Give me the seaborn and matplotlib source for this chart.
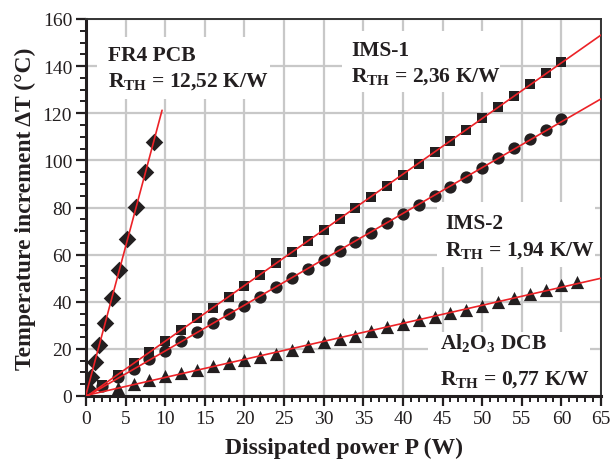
import numpy as np
import pandas as pd
import matplotlib
matplotlib.use("Agg")
import matplotlib.pyplot as plt
import seaborn as sns
from matplotlib.patches import Rectangle
from matplotlib.ticker import MultipleLocator

# measured points (power W, temperature rise degC)
fr4_p = [0.2, 0.6, 1.1, 1.7, 2.4, 3.3, 4.2, 5.2, 6.3, 7.5, 8.6]
fr4_t = [3.0, 8.0, 14.3, 21.8, 31.0, 41.5, 53.6, 66.5, 80.2, 95.0, 108.0]

ims1_p = list(range(2, 61, 2))
ims1_t = [4.7, 8.9, 14.0, 18.8, 23.5, 28.2, 33.0, 37.4, 42.0, 46.8,
          51.5, 56.3, 61.0, 65.6, 70.3, 75.0, 79.8, 84.5, 89.2, 93.8,
          98.5, 103.4, 108.1, 113.0, 117.9, 122.5, 127.2, 132.3, 137.1, 141.9]

ims2_p = list(range(2, 61, 2))
ims2_t = [4.1, 7.9, 11.5, 15.7, 19.2, 23.2, 27.0, 31.0, 34.8, 38.1,
          42.2, 46.4, 50.1, 53.9, 57.7, 61.4, 65.2, 69.2, 73.3, 77.2,
          81.1, 84.8, 88.8, 92.8, 96.8, 100.9, 105.1, 109.1, 113.0, 117.6]

dcb_p = list(range(4, 63, 2))
dcb_t = [3.6, 5.3, 6.9, 8.4, 9.8, 11.2, 12.9, 14.0, 15.2, 16.6,
         17.9, 19.6, 21.4, 23.0, 24.2, 25.6, 27.7, 29.1, 30.6, 32.4,
         33.7, 35.1, 36.6, 38.3, 40.0, 41.5, 43.3, 45.1, 47.1, 48.5]

series = ["FR4", "IMS-1", "IMS-2", "Al2O3"]
powers = [fr4_p, ims1_p, ims2_p, dcb_p]
temps = [fr4_t, ims1_t, ims2_t, dcb_t]
fit_end = [9.6, 65, 65, 65]   # how far the red fit line runs

x_ticks = list(range(0, 66, 5))
y_ticks = list(range(0, 161, 20))

ink = "#231f20"

sns.set_style("ticks")
plt.rcParams["font.family"] = ["Liberation Serif", "DejaVu Serif"]
plt.rcParams["mathtext.fontset"] = "custom"
plt.rcParams["mathtext.rm"] = "Liberation Serif:bold"
plt.rcParams["mathtext.bf"] = "Liberation Serif:bold"

fig = plt.figure(figsize=(6.11, 4.60), dpi=100)
ax = fig.add_axes([86 / 611, 63 / 460, 515 / 611, 377 / 460])

marker_style = {
    "FR4": dict(marker="D", s=80),
    "IMS-1": dict(marker="s", s=60),
    "IMS-2": dict(marker="o", s=78),
    "Al2O3": dict(marker="^", s=90),
}

for name, p, t, xe in zip(series, powers, temps, fit_end):
    df = pd.DataFrame({"P": p, "T": t})
    sns.scatterplot(data=df, x="P", y="T", ax=ax, color=ink,
                    edgecolor=ink, linewidth=0, zorder=4,
                    **marker_style[name])
    k, b = np.polyfit(df["P"], df["T"], 1)
    xl = np.array([0.0, xe])
    sns.lineplot(x=xl, y=k * xl + b, ax=ax, color="#ec2227", lw=1.2,
                 zorder=5)

ax.set_xlim(0, 65)
ax.set_ylim(0, 160)
ax.set_xticks(x_ticks)
ax.set_yticks(y_ticks)
ax.xaxis.set_minor_locator(MultipleLocator(1))
ax.yaxis.set_minor_locator(MultipleLocator(5))
ax.grid(True, which="major", color="#c8c8c8", lw=1.6, zorder=0)
ax.set_axisbelow(True)

ax.tick_params(axis="both", which="major", direction="out", length=7,
               width=1.6, labelsize=14, color=ink, labelcolor=ink, pad=3)
ax.tick_params(axis="both", which="minor", direction="out", length=4,
               width=1.4, color=ink)
for side in ["left", "bottom"]:
    ax.spines[side].set_linewidth(2.2)
    ax.spines[side].set_color(ink)
for side in ["top", "right"]:
    ax.spines[side].set_linewidth(1.4)
    ax.spines[side].set_color("#333333")
    ax.spines[side].set_visible(True)

ax.set_xlabel("Dissipated power P (W)", fontsize=17, fontweight="bold",
              color=ink, labelpad=7)
ax.set_ylabel("Temperature increment ΔT (°C)", fontsize=17,
              fontweight="bold", color=ink, labelpad=5)

# white label boxes hiding the grid
boxes = [(1.4, 126, 21.8, 26.4), (32.3, 129, 20.0, 26.0),
         (44.3, 54.8, 20.0, 27.5), (43.2, 0, 20.4, 27.2)]
for bx, by, bw, bh in boxes:
    ax.add_patch(Rectangle((bx, by), bw, bh, facecolor="white",
                           edgecolor="none", zorder=1))

lab = dict(fontsize=15.5, fontweight="bold", ha="left", va="baseline",
           color=ink, zorder=6)
ax.text(2.78, 142.6, "FR4 PCB", **lab)
ax.text(2.78, 131.2, r"R$_{\mathrm{TH}}$ = 12,52 K/W", **lab)
ax.text(33.5, 144.7, "IMS-1", **lab)
ax.text(33.5, 133.7, r"R$_{\mathrm{TH}}$ = 2,36 K/W", **lab)
ax.text(45.4, 71.5, "IMS-2", **lab)
ax.text(45.3, 59.8, r"R$_{\mathrm{TH}}$ = 1,94 K/W", **lab)
ax.text(44.7, 20.0, r"Al$_{\mathrm{2}}$O$_{\mathrm{3}}$ DCB", **lab)
ax.text(44.7, 4.8, r"R$_{\mathrm{TH}}$ = 0,77 K/W", **lab)

fig.savefig("out.png", dpi=100)
